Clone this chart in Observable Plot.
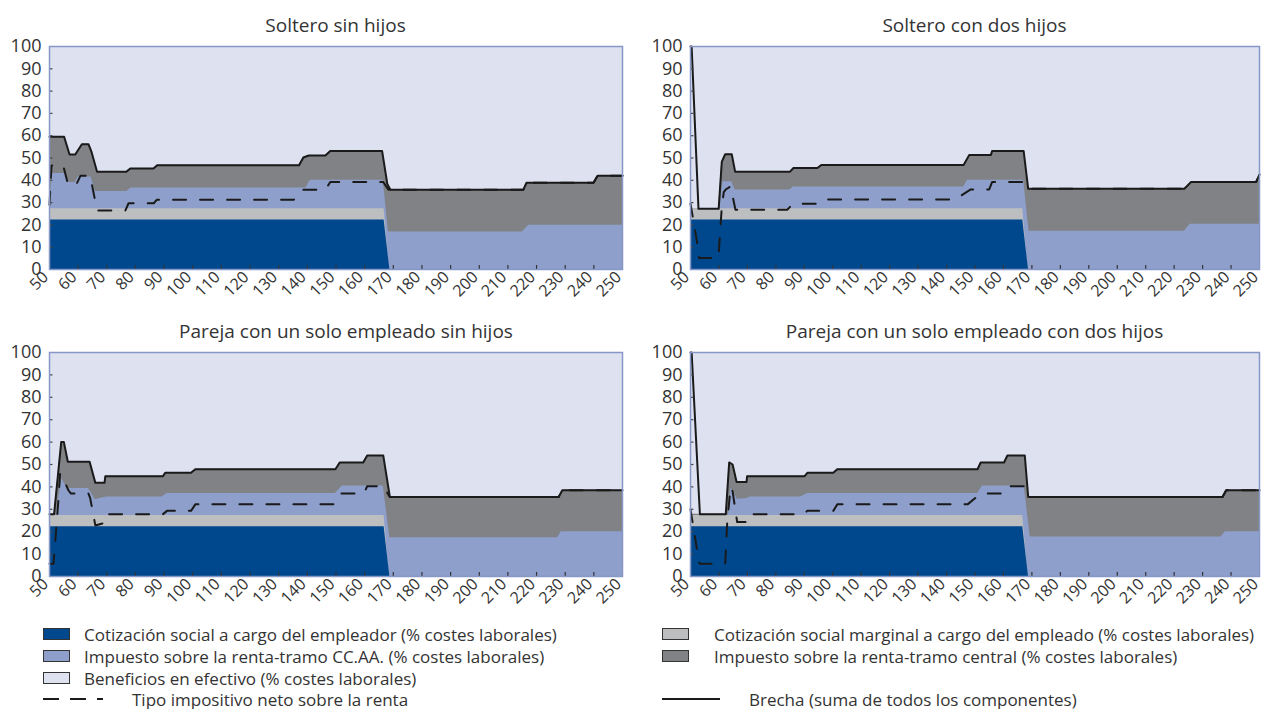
<!DOCTYPE html>
<html><head><meta charset="utf-8">
<script src="https://cdn.jsdelivr.net/npm/d3@7"></script>
<script src="https://cdn.jsdelivr.net/npm/@observablehq/plot@0.6"></script>
<style>
body{margin:0;background:#fff;font-family:'Open Sans',sans-serif;color:#333;}
#root{position:relative;width:1265px;height:709px;overflow:hidden;background:#fff;}
.panel{position:absolute;}
.title{position:absolute;font-size:19px;line-height:22px;white-space:nowrap;transform:translate(-50%,-50%);color:#333;}
.legtxt{position:absolute;font-size:17px;line-height:17px;white-space:nowrap;transform:translateY(-50%);color:#333;}
.sw{position:absolute;box-sizing:border-box;width:27px;height:12px;border:1.5px solid #333;transform:translateY(-50%);}
</style></head><body><div id="root"></div>
<script>
// ---- data ----
const xTicks = d3.range(50, 251, 10);
const yTicks = d3.range(0, 101, 10);
const titles = ["Soltero sin hijos", "Soltero con dos hijos",
  "Pareja con un solo empleado sin hijos", "Pareja con un solo empleado con dos hijos"];

// common social security levels (cumulative tops, % of labour cost)
const employerTop = [[50,22.2],[166.8,22.2],[168.8,0],[250,0]];
const employeeTop = [[50,27.2],[166.8,27.2],[168.6,0],[250,0]];

// Panel 1: Soltero sin hijos
const total1 = [[50,59.5],[55.1,59.5],[57,51.6],[59,51.6],[61.3,56.2],[63.6,56.2],[64.6,53],[66.6,43.8],[76.8,43.8],[78.2,45.3],[86.3,45.3],[87.6,46.8],[137.1,46.8],[138.6,50.2],[140.5,51.1],[146.3,51.1],[148,53.1],[166.1,53.1],[167.9,38.4],[169,35.8],[215.4,35.8],[216.5,38.9],[239.9,38.9],[241.3,42],[250,42]];
const central1 = total1;
const regional1 = [[50,27.2],[51,43],[55.5,43],[57,39],[59,39],[60,41.5],[64.5,41.5],[66,35],[77,35],[78.5,36.5],[139.5,36.5],[141,40],[166.5,40],[168.3,16.8],[215,16.8],[217.3,19.8],[250,19.8]];
const net1 = [[50,29],[50.7,46.6],[54.8,46.6],[56.5,38],[59.3,38],[60.8,42],[64.2,42],[66.6,26.5],[76.5,26.5],[77.6,29.7],[86.4,29.7],[87.5,31.3],[135.3,31.3],[138.2,35.8],[146.3,35.8],[148,39.2],[166.5,39.2],[168.3,35.8],[215.4,35.8],[216.5,38.9],[239.9,38.9],[241.3,42],[250,42]];

// Panel 2: Soltero con dos hijos
const total2 = [[50,100],[50.4,100],[52.8,27.2],[59.9,27.2],[61,48.3],[62.2,51.7],[64.5,51.7],[65.7,43.8],[84.9,43.8],[86.2,45.5],[94.6,45.5],[96,46.9],[146,46.9],[148,51.4],[155.6,51.4],[156,53.1],[167.1,53.1],[168.7,36.2],[223.6,36.2],[225.9,39.2],[248.8,39.2],[250,42.6]];
const central2 = [[50,27.2], ...total2.slice(2)];
const regional2 = [[50,27.2],[60.4,27.2],[61.3,39.3],[64.5,39.3],[65.7,35.6],[84.9,35.6],[86.2,37],[146,37],[147.4,40],[167.1,40],[169,17.1],[223.6,17.1],[225.6,20.3],[250,20.3]];
const net2 = [[50,29.5],[52.4,11.6],[53,5.2],[59.8,5.2],[61,28],[61.7,34.7],[62.5,36],[64.1,37.3],[65.8,26.8],[84,26.8],[86.1,29.5],[94.6,29.5],[96.3,31.4],[143,31.4],[148.5,35.9],[155,35.9],[156,39.2],[167.1,39.2],[168.7,36.2],[223.6,36.2],[225.9,39.2],[248.8,39.2],[250,42.6]];

// Panel 3: Pareja con un solo empleado sin hijos
const total3 = [[50,27.8],[51.6,27.8],[54.1,60.1],[55,60.1],[56.4,51.2],[64,51.2],[66,41.8],[69.2,41.8],[69.5,44.8],[89.6,44.8],[90.4,46.3],[99.4,46.3],[100.9,47.9],[149.8,47.9],[151.3,50.9],[159.5,50.9],[160.9,54],[166.5,54],[168.8,35.5],[227.7,35.5],[229,38.5],[250,38.5]];
const central3 = total3;
const regional3 = [[50,27.2],[52.3,27.2],[54.3,43.7],[56.2,39.3],[63.6,39.3],[66,34.3],[67.5,34.8],[70,35.5],[89.3,35.5],[91,37],[149.8,37],[152.2,40.4],[166.5,40.4],[168.8,17.3],[227.4,17.3],[228.6,20],[250,20]];
const net3 = [[50,5.7],[51.4,5.7],[53.1,34],[53.7,46],[54.3,45],[56.6,38.5],[57.5,37],[63.6,37],[64.2,35],[66,22.8],[69.3,24],[69.8,27.8],[89.6,27.8],[91,29.3],[99.4,29.3],[100.9,32.2],[149.2,32.2],[151.6,37],[159.7,37],[160.9,40.3],[166.5,40.3],[168.8,35.5],[227.7,35.5],[229,38.5],[250,38.5]];

// Panel 4: Pareja con un solo empleado con dos hijos
const total4 = [[50,100],[50.4,100],[53.3,27.8],[62.4,27.8],[63.6,50.9],[64.8,50],[66.2,42.2],[69.7,42.2],[69.9,44.8],[90.1,44.8],[91.1,46.3],[100.2,46.3],[101.6,47.9],[150.9,47.9],[152,50.9],[160.2,50.9],[161.4,54],[167.5,54],[168.7,35.5],[237,35.5],[238.3,38.5],[250,38.5]];
const central4 = [[50,27.8], ...total4.slice(2)];
const regional4 = [[50,27.2],[63.3,27.2],[64.2,39.3],[66.5,34.5],[69.7,34.8],[71,35.5],[88.7,35.5],[91.1,37],[150.9,37],[152.6,40.4],[167.3,40.4],[169.4,17.6],[236.5,17.6],[238,20],[250,20]];
const net4 = [[50,30],[53,6.4],[53.3,5.7],[62.2,5.7],[62.9,24],[64.1,40],[64.8,38],[66.4,24.3],[69.4,24.3],[70.2,27.8],[89.9,27.8],[91,29.3],[100.2,29.3],[101.6,32.2],[147.4,32.2],[152,37],[159.1,37],[160.8,40.3],[167.3,40.3],[168.7,35.5],[237,35.5],[238.3,38.5],[250,38.5]];

const legendLeft = ["Cotización social a cargo del empleador (% costes laborales)",
  "Impuesto sobre la renta-tramo CC.AA. (% costes laborales)",
  "Beneficios en efectivo (% costes laborales)",
  "Tipo impositivo neto sobre la renta"];
const legendRight = ["Cotización social marginal a cargo del empleado (% costes laborales)",
  "Impuesto sobre la renta-tramo central (% costes laborales)",
  "Brecha (suma de todos los componentes)"];

// ---- styles ----
const C = {employer:"#00488d", regional:"#8e9fcb", benefits:"#dde1f0", employee:"#bcbec0", central:"#808285", line:"#1a1a1a", frame:"#8797c6"};
const FONT = "'Open Sans', sans-serif";

const panels = [
  {title:titles[0], left:0,   top:38,  width:632, mL:49, mR:10, height:272, mT:8, mB:41, tx:335.5, ty:25,  total:total1, central:central1, regional:regional1, net:net1},
  {title:titles[1], left:640, top:38,  width:625, mL:50, mR:6,  height:272, mT:8, mB:41, tx:974.5, ty:25,  total:total2, central:central2, regional:regional2, net:net2},
  {title:titles[2], left:0,   top:344, width:632, mL:49, mR:10, height:272, mT:8, mB:40, tx:346,   ty:331, total:total3, central:central3, regional:regional3, net:net3},
  {title:titles[3], left:640, top:344, width:625, mL:50, mR:6,  height:272, mT:8, mB:40, tx:974.5, ty:331, total:total4, central:central4, regional:regional4, net:net4}
];

const root = document.getElementById("root");
const X = d => d[0], Y = d => d[1];

for (const p of panels) {
  const chart = Plot.plot({
    width: p.width, height: p.height,
    marginLeft: p.mL, marginRight: p.mR, marginTop: p.mT, marginBottom: p.mB,
    x: {type:"linear", domain:[50,250]},
    y: {type:"linear", domain:[0,100]},
    style: {fontFamily: FONT, color:"#333", background:"transparent", overflow:"visible"},
    marks: [
      Plot.frame({fill: C.benefits, stroke: null}),
      Plot.areaY(p.central, {x:X, y1:0, y2:Y, fill:C.central}),
      Plot.areaY(p.regional, {x:X, y1:0, y2:Y, fill:C.regional}),
      Plot.areaY(employeeTop, {x:X, y1:0, y2:Y, fill:C.employee}),
      Plot.areaY(employerTop, {x:X, y1:0, y2:Y, fill:C.employer}),
      Plot.line(p.net, {x:X, y:Y, stroke:C.line, strokeWidth:2, strokeDasharray:"13,14"}),
      Plot.line(p.total, {x:X, y:Y, stroke:C.line, strokeWidth:2}),
      Plot.ruleX(xTicks.slice(1,-1), {x:d=>d, y1:0, y2:1.8, stroke:"#333", strokeWidth:1.2}),
      Plot.ruleY(yTicks.slice(1,-1), {y:d=>d, x1:50, x2:51.2, stroke:"#444", strokeWidth:1.2}),
      Plot.frame({stroke: C.frame, strokeWidth: 1.5}),
      Plot.axisY({ticks:yTicks, tickSize:0, tickPadding:8, fontSize:18, label:null, fill:"#333"}),
      Plot.axisX({ticks:xTicks, tickSize:0, tickPadding:5, tickRotate:-45, fontSize:16, dx:-4, label:null, fill:"#333"})
    ]
  });
  chart.classList.add("panel");
  chart.style.left = p.left + "px";
  chart.style.top = p.top + "px";
  root.appendChild(chart);
  const t = document.createElement("div");
  t.className = "title"; t.textContent = p.title;
  t.style.left = p.tx + "px"; t.style.top = p.ty + "px";
  root.appendChild(t);
}

// ---- legend ----
function swatch(x, y, color) {
  const s = document.createElement("div");
  s.className = "sw"; s.style.left = x + "px"; s.style.top = y + "px"; s.style.background = color;
  root.appendChild(s);
}
function label(x, y, text) {
  const t = document.createElement("div");
  t.className = "legtxt"; t.style.left = x + "px"; t.style.top = y + "px"; t.textContent = text;
  root.appendChild(t);
}
function lineSample(x, y, w, dash) {
  const ns = "http://www.w3.org/2000/svg";
  const svg = document.createElementNS(ns, "svg");
  svg.setAttribute("width", w); svg.setAttribute("height", 6);
  svg.style.position = "absolute"; svg.style.left = x + "px"; svg.style.top = (y - 3) + "px";
  const l = document.createElementNS(ns, "line");
  l.setAttribute("x1", 0); l.setAttribute("x2", w); l.setAttribute("y1", 3); l.setAttribute("y2", 3);
  l.setAttribute("stroke", C.line); l.setAttribute("stroke-width", 2);
  if (dash) l.setAttribute("stroke-dasharray", dash);
  svg.appendChild(l); root.appendChild(svg);
}
const rowsY = [634, 656, 678, 699];
swatch(43, rowsY[0], C.employer); label(84, rowsY[0], legendLeft[0]);
swatch(43, rowsY[1], C.regional); label(84, rowsY[1], legendLeft[1]);
swatch(43, rowsY[2], C.benefits); label(84, rowsY[2], legendLeft[2]);
lineSample(43, rowsY[3], 60, "16,11"); label(132, rowsY[3], legendLeft[3]);
swatch(662, rowsY[0], C.employee); label(714, rowsY[0], legendRight[0]);
swatch(662, rowsY[1], C.central); label(714, rowsY[1], legendRight[1]);
lineSample(662, rowsY[3], 58, null); label(749, rowsY[3], legendRight[2]);
</script></body></html>
